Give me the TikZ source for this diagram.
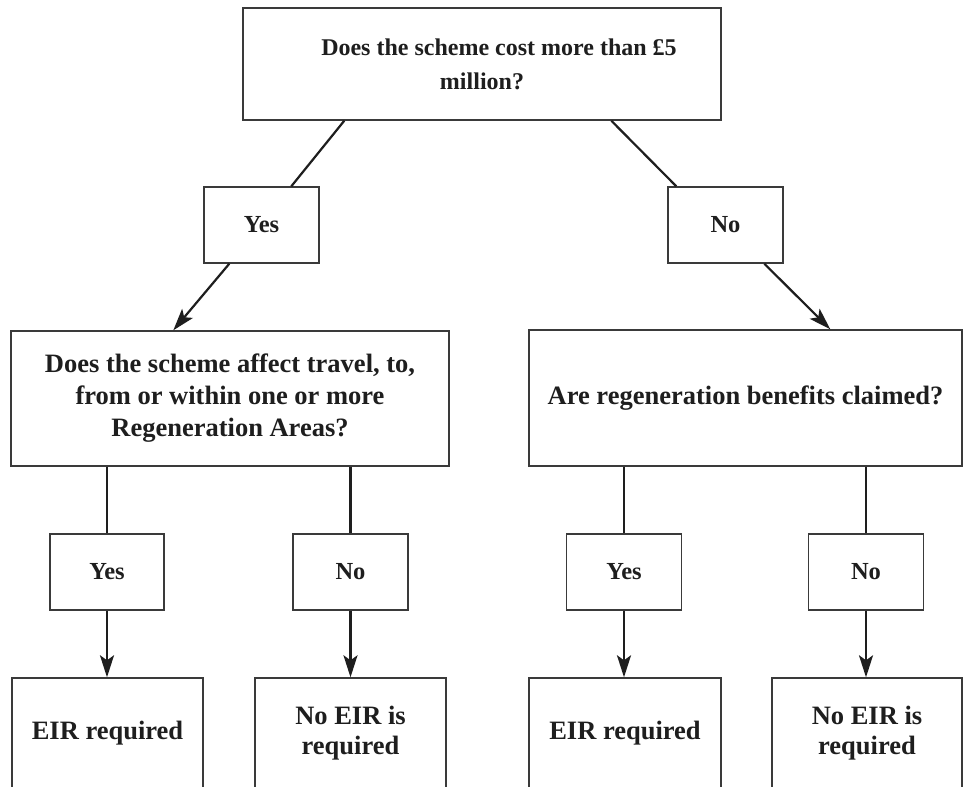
\documentclass[tikz,border=0pt]{standalone}
\usepackage{fontspec}
\setmainfont{Liberation Serif}
\usetikzlibrary{arrows.meta,calc}
\definecolor{ink}{HTML}{1E1E1E}
\definecolor{frame}{HTML}{3A3A3A}
\tikzset{
  box/.style={draw=frame, line width=1.4pt, fill=white, inner sep=0pt, text=ink,
    font=\fontsize{26.5}{32}\selectfont\bfseries, align=center},
  smallbox/.style={box, font=\fontsize{24.5}{30}\selectfont\bfseries,
    minimum width=115pt, minimum height=76pt},
  link/.style={draw=ink, line width=2.2pt},
  arrowlink/.style={link, -{Stealth[length=22pt,width=14pt,inset=5pt]}},
}
\begin{document}
\begin{tikzpicture}[x=1pt,y=-1pt]
\useasboundingbox (0,0) rectangle (964,787);
\clip (0,0) rectangle (964,787);
% boxes
\node[box, font=\fontsize{24}{34}\selectfont\bfseries, minimum width=478pt, minimum height=112pt] (top) at (482,64)
  {\hspace*{34pt}Does the scheme cost more than £5\\million?};
\node[smallbox] (yes1) at (261.5,225) {Yes};
\node[smallbox] (no1) at (725.5,225) {No};
\node[box, minimum width=438pt, minimum height=135pt] (left) at (230,398.5)
  {Does the scheme affect travel, to,\\from or within one or more\\Regeneration Areas?};
\node[box, minimum width=433pt, minimum height=136pt] (right) at (745.5,398)
  {Are regeneration benefits claimed?};
\node[smallbox, minimum width=114pt] (yes2) at (107,572) {Yes};
\node[smallbox] (no2) at (350.5,572) {No};
\node[smallbox] (yes3) at (624,572) {Yes};
\node[smallbox] (no3) at (866,572) {No};
\node[box, font=\fontsize{26.5}{30}\selectfont\bfseries, minimum width=191pt, minimum height=110pt] (eir1) at (107.5,733) {EIR required};
\node[box, font=\fontsize{26.5}{30}\selectfont\bfseries, minimum width=191pt, minimum height=110pt] (noeir1) at (350.5,733) {No EIR is\\required};
\node[box, font=\fontsize{26.5}{30}\selectfont\bfseries, minimum width=192pt, minimum height=110pt] (eir2) at (625,733) {EIR required};
\node[box, font=\fontsize{26.5}{30}\selectfont\bfseries, minimum width=190pt, minimum height=110pt] (noeir2) at (867,733) {No EIR is\\required};
% connectors
\draw[link] ([xshift=102pt]top.south west) -- ([xshift=88pt]yes1.north west);
\draw[link] ([xshift=369pt]top.south west) -- ([xshift=9pt]no1.north west);
\draw[arrowlink] ([xshift=26pt]yes1.south west) -- ([xshift=163pt]left.north west);
\draw[arrowlink] ([xshift=97pt]no1.south west) -- ([xshift=302pt]right.north west);
\draw[link] (left.south -| yes2.north) -- (yes2.north);
\draw[link] (left.south -| no2.north) -- (no2.north);
\draw[link] (right.south -| yes3.north) -- (yes3.north);
\draw[link] (right.south -| no3.north) -- (no3.north);
\draw[arrowlink] (yes2.south) -- (yes2.south |- eir1.north);
\draw[arrowlink] (no2.south) -- (no2.south |- noeir1.north);
\draw[arrowlink] (yes3.south) -- (yes3.south |- eir2.north);
\draw[arrowlink] (no3.south) -- (no3.south |- noeir2.north);
\end{tikzpicture}
\end{document}
